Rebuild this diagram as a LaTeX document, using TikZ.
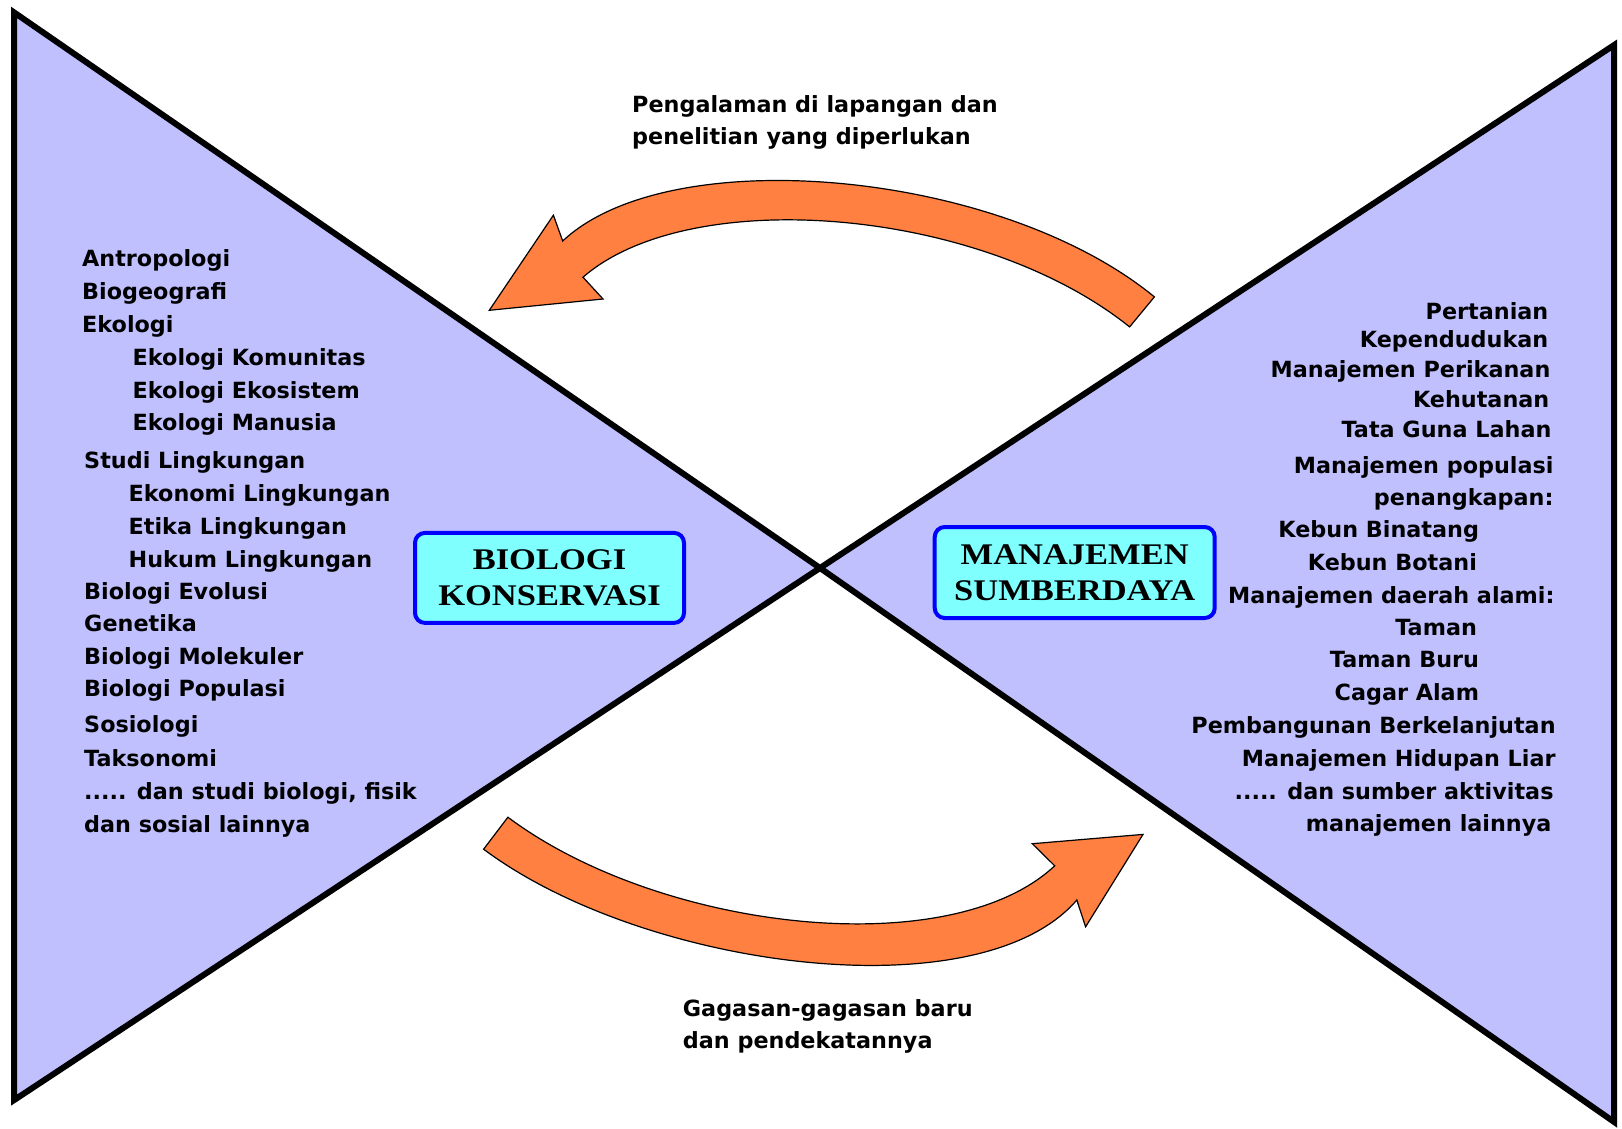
\documentclass[tikz,border=0pt]{standalone}
\usepackage{fontspec}
\usepackage{graphicx}
\setmainfont{DejaVu Sans}
\newfontfamily\titleserif{Liberation Serif}
\definecolor{wing}{RGB}{192,192,255}
\definecolor{titlefill}{RGB}{128,255,255}
\definecolor{titleline}{RGB}{0,0,255}
\definecolor{arrowfill}{RGB}{255,128,64}
\newcommand\fivedots{.....}
\newcommand\widecaps[1]{\scalebox{1.15}[1]{#1}}

\begin{document}
\begin{tikzpicture}[x=1pt,y=-1pt,
  wingshape/.style={fill=wing, draw=black, line width=6pt, line join=miter},
  itemtext/.style={inner sep=0pt, font=\fontsize{22.3}{26}\selectfont\bfseries},
  notetext/.style={inner sep=0pt, align=left, font=\fontsize{22.3}{32}\selectfont\bfseries},
  titlebox/.style={draw=titleline, fill=titlefill, line width=4pt, rounded corners=10pt,
    inner sep=0pt, align=center, font=\fontsize{30}{35.5}\selectfont\titleserif\bfseries},
  blockarrow/.style={fill=arrowfill, draw=black, line width=1.2pt, line join=miter}
]
\useasboundingbox (0,0) rectangle (1622,1129);

% the two wings of the bow-tie
\filldraw[wingshape] (14.2,12.5) -- (820,568) -- (14.2,1100) -- cycle;
\filldraw[wingshape] (820,568) -- (1614.2,45) -- (1614.2,1122) -- cycle;

% curved block arrows between the wings
\draw[blockarrow] (489.3,310.3) -- (553.4,215.2) -- (562.7,241)
  .. controls (670,140) and (1000,170) .. (1154.4,296.9) -- (1129.6,326.9)
  .. controls (980,207) and (690,184) .. (583,277.2) -- (603,299) -- cycle;
\draw[blockarrow] (507.9,817.2)
  .. controls (660,931) and (950,964) .. (1054.7,865.8) -- (1032.3,843.7)
  -- (1143,834.4) -- (1085.6,926.8) -- (1076.8,900)
  .. controls (980,1013) and (644,969) .. (483.6,849.2) -- cycle;

% arrow captions
\node[notetext, anchor=west] (topnote) at (632,122.5)
  {Pengalaman di lapangan dan\\penelitian yang diperlukan};
\node[notetext, anchor=west] (bottomnote) at (682.7,1026.2)
  {Gagasan-gagasan baru\\dan pendekatannya};

% title boxes
\node[titlebox, minimum width=269pt, minimum height=90pt] (bk) at (549.5,577.9)
  {\widecaps{BIOLOGI}\\\widecaps{KONSERVASI}};
\node[titlebox, minimum width=280pt, minimum height=91pt] (ms) at (1074.7,572.5)
  {\widecaps{MANAJEMEN}\\\widecaps{SUMBERDAYA}};

% disciplines of conservation biology
\foreach \txt/\xx/\yy [count=\i] in {
  Antropologi/82/258.6, Biogeografi/82/291.7, Ekologi/82/324.8,
  Ekologi Komunitas/132.5/357.9, Ekologi Ekosistem/132.5/391, Ekologi Manusia/132.5/423,
  Studi Lingkungan/84/460.3, Ekonomi Lingkungan/128.5/493.4,
  Etika Lingkungan/128.5/526.5, Hukum Lingkungan/128.5/559.6,
  Biologi Evolusi/84/591.7, Genetika/84/623.7, Biologi Molekuler/84/656.8,
  Biologi Populasi/84/688.9, Sosiologi/84/725.1, Taksonomi/84/758.2,
  {\fivedots{} dan studi biologi, fisik}/84/791.3, dan sosial lainnya/84/824.4}
  \node[itemtext, anchor=base west] (L\i) at (\xx,\yy+7.8) {\txt};

% fields of resource management
\foreach \txt/\xx/\yy [count=\i] in {
  Pertanian/1548.5/311.4, Kependudukan/1548.5/339.3,
  Manajemen Perikanan/1550.6/369.3, Kehutanan/1549.5/399.3,
  Tata Guna Lahan/1551.6/429.3, Manajemen populasi/1553.7/465.5,
  penangkapan:/1553.7/497.5, Kebun Binatang/1479.2/529.6,
  Kebun Botani/1477.1/562.7, Manajemen daerah alami:/1554.7/595.8,
  Taman/1477.1/627.9, Taman Buru/1479.2/660, Cagar Alam/1479.2/693,
  Pembangunan Berkelanjutan/1555.8/726.1, Manajemen Hidupan Liar/1555.8/758.2,
  {\fivedots{} dan sumber aktivitas}/1553.7/791.3, manajemen lainnya/1551.6/823.4}
  \node[itemtext, anchor=base east] (R\i) at (\xx,\yy+7.8) {\txt};
\end{tikzpicture}
\end{document}
